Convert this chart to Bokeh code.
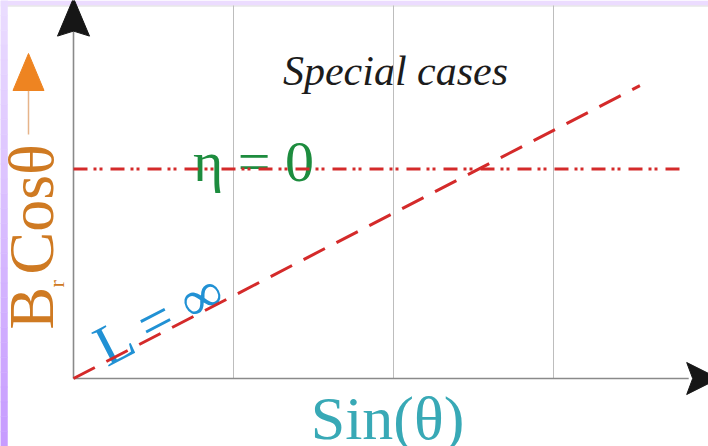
import math
from bokeh.plotting import figure
from bokeh.models import Range1d
from bokeh.core.properties import value
from bokeh.embed import file_html
from bokeh.resources import INLINE

# Chart values, in units of the Sin(θ) axis (one grid step = 1 unit)
grid_x = [1, 2, 3]
l_inf_x = [0.0, 3.54]          # L = ∞ : straight line through the origin
l_inf_y = [0.0, 1.83]
eta_level = 1.31               # η = 0 : constant level
eta_x = [0.0, 3.81]
x_axis_end = 3.97
y_axis_end = 2.34

W, H = 708, 446
UNIT = 160            # pixels per unit on both axes
OX, OY = 73, 378      # origin position on the canvas
DROP = 0.18           # distance from baseline down to the "bottom" text anchor, in em


def ux(px):
    return (px - OX) / UNIT


def uy(py):
    return (OY - py) / UNIT


def ul(n):
    return n / UNIT


def arrow_head(tip_x, tip_y, dx, dy, length, width, notch):
    """Filled arrow head (with a shallow notch) pointing along (dx, dy)."""
    nx, ny = -dy, dx
    bx, by = tip_x - dx * length, tip_y - dy * length
    xs = [tip_x, bx + nx * width / 2, bx + dx * notch, bx - nx * width / 2]
    ys = [tip_y, by + ny * width / 2, by + dy * notch, by - ny * width / 2]
    return xs, ys


p = figure(width=W, height=H, output_backend="svg", toolbar_location=None,
           x_range=Range1d(ux(0), ux(W)), y_range=Range1d(uy(H), uy(0)),
           x_axis_location=None, y_axis_location=None, min_border=0)
p.grid.visible = False
p.outline_line_color = None


def label(txt, bx, by, size, color, angle=None, align="left", italic=False):
    """Place text by its baseline point (canvas pixels)."""
    a = angle or 0.0
    off = DROP * size
    ax = bx + math.sin(a) * off
    ay = by + math.cos(a) * off
    kw = dict(text_font=value("Liberation Serif"), text_font_size=f"{size}px",
              text_color=color, text_align=align)
    if italic:
        kw["text_font_style"] = "italic"
    if angle:
        kw["angle"] = angle
    p.text(x=[ux(ax)], y=[uy(ay)], text=[txt], **kw)


slope_angle = math.atan2(l_inf_y[1] - l_inf_y[0], l_inf_x[1] - l_inf_x[0])
ylab = "#cf7a22"

# texts first, so the lines run over them
label("Special cases", 395, 86, 42, "#1c1c1c", align="center", italic=True)
label("η = 0", 253, 183, 58, "#1d8c3e", align="center")
label("L = ∞", 108, 369, 58, "#2191d4", angle=slope_angle)
label("Sin(θ)", 387, 440, 62, "#38a9b6", align="center")
# y label: B_r Cosθ, read bottom to top
label("B", 55, 329, 64, ylab, angle=math.pi / 2)
label("r", 65, 287, 22, ylab, angle=math.pi / 2)
label("Cosθ", 55, 274, 64, ylab, angle=math.pi / 2)

# lavender frame: band on top, gradient strip on the left
p.quad(left=[ux(0)], right=[ux(W)], top=[uy(0)], bottom=[uy(5)],
       fill_color="#ecdcff", line_color=None)
p.segment(x0=[ux(0)], y0=[uy(5.5)], x1=[ux(W)], y1=[uy(5.5)],
          line_color="#dcdcdc", line_width=1)
n_strips = 30
top_c, bot_c = (234, 220, 255), (199, 156, 255)
lefts, rights, tops, bottoms, colors = [], [], [], [], []
for i in range(n_strips):
    t = i / (n_strips - 1)
    c = tuple(int(round(a + (b - a) * t)) for a, b in zip(top_c, bot_c))
    lefts.append(ux(0))
    rights.append(ux(7))
    tops.append(uy(H * i / n_strips))
    bottoms.append(uy(H * (i + 1) / n_strips))
    colors.append("#%02x%02x%02x" % c)
p.quad(left=lefts, right=rights, top=tops, bottom=bottoms,
       fill_color=colors, line_color=colors, line_width=0.5)

# vertical grid lines
p.segment(x0=grid_x, y0=[0] * len(grid_x), x1=grid_x,
          y1=[uy(5)] * len(grid_x), line_color="#bdbdbd", line_width=1)

# axes
p.segment(x0=[0], y0=[0], x1=[x_axis_end - ul(20)], y1=[0],
          line_color="#8a8a8a", line_width=1.6)
p.segment(x0=[0], y0=[0], x1=[0], y1=[y_axis_end - ul(25)],
          line_color="#8a8a8a", line_width=1.6)
hx, hy = arrow_head(x_axis_end + ul(10), 0, 1, 0, ul(32), ul(32), ul(6))
p.patch(hx, hy, fill_color="#161616", line_color="#161616")
hx, hy = arrow_head(0, y_axis_end + ul(6), 0, 1, ul(38), ul(32), ul(5))
p.patch(hx, hy, fill_color="#161616", line_color="#161616")

# η = 0 level (dash-dot-dot)
p.line(x=eta_x, y=[eta_level, eta_level], line_color="#d42a2a",
       line_width=3, line_dash="14 6 3 3 3 8")

# L = ∞ line (dashed)
p.line(x=l_inf_x, y=l_inf_y, line_color="#d42a2a", line_width=3,
       line_dash="24 13")

# arrow beside the y label
p.segment(x0=[ux(28)], y0=[uy(134)], x1=[ux(28)], y1=[uy(86)],
          line_color="#e6b48a", line_width=1.5)
hx, hy = arrow_head(ux(28), uy(53), 0, 1, ul(37), ul(31), ul(0))
p.patch(hx, hy, fill_color="#ee8421", line_color="#ee8421")

open("out.html", "w").write(file_html(p, INLINE))
